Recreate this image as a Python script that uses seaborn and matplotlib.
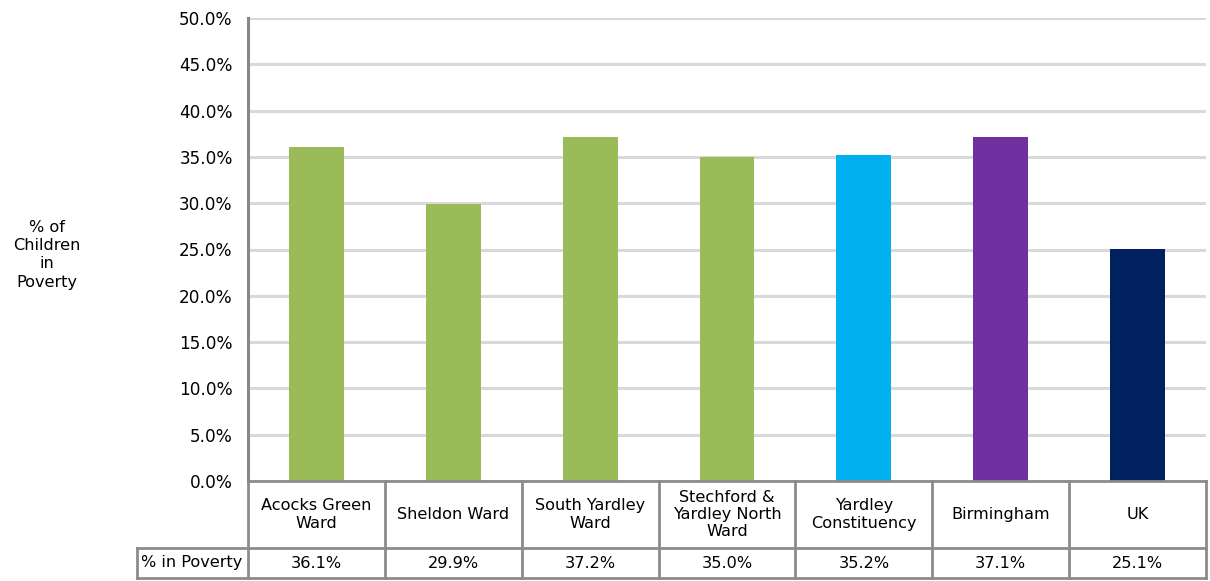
import matplotlib
matplotlib.use("Agg")
import matplotlib.pyplot as plt
import matplotlib.transforms as mtransforms
import seaborn as sns
import pandas as pd
from matplotlib.ticker import PercentFormatter

categories = ["Acocks Green\nWard", "Sheldon Ward", "South Yardley\nWard",
              "Stechford &\nYardley North\nWard", "Yardley\nConstituency",
              "Birmingham", "UK"]
poverty_pct = [36.1, 29.9, 37.2, 35.0, 35.2, 37.1, 25.1]
bar_colors = ["#9BBB59", "#9BBB59", "#9BBB59", "#9BBB59",
              "#00B0F0", "#7030A0", "#002060"]
row_label = "% in Poverty"
y_label = "% of\nChildren\nin\nPoverty"

sns.set_theme(style="white")
plt.rcParams["font.family"] = ["DejaVu Sans"]
plt.rcParams["text.color"] = "black"

df = pd.DataFrame({"area": categories, "pct": poverty_pct})

W, H = 1210, 581
fig = plt.figure(figsize=(W / 100, H / 100), dpi=100)
ax_left, ax_right, ax_top, ax_bottom = 248, 1206, 18, 481
ax = fig.add_axes([ax_left / W, 1 - ax_bottom / H,
                   (ax_right - ax_left) / W, (ax_bottom - ax_top) / H])
ax_h = ax_bottom - ax_top
col_w = (ax_right - ax_left) / len(categories)

sns.barplot(data=df, x="area", y="pct", hue="area", order=categories,
            palette=dict(zip(categories, bar_colors)), width=0.4,
            legend=False, ax=ax, saturation=1, linewidth=0)

fs = 11.6
ax.set_ylim(0, 50)
ax.set_yticks(range(0, 51, 5))
ax.yaxis.set_major_formatter(PercentFormatter(decimals=1))
ax.tick_params(axis="y", labelsize=12.2, length=0, pad=11, labelcolor="black")
ax.set_xticks([])
ax.set_xlabel("")
ax.set_ylabel("")
ax.set_xlim(-0.5, len(categories) - 0.5)
ax.grid(axis="y", color="#D9D9D9", linewidth=2.2)
ax.set_axisbelow(True)
for side in ["top", "right", "bottom"]:
    ax.spines[side].set_visible(False)
ax.spines["left"].set_color("#878787")
ax.spines["left"].set_linewidth(2.2)

fig.text(47 / W, 1 - 255 / H, y_label, ha="center", va="center",
         fontsize=fs, linespacing=1.25)

# data table under the plot area (x in category units, y in axes fraction)
trans = mtransforms.blended_transform_factory(ax.transData, ax.transAxes)
edge = dict(color="#8C8C8C", linewidth=2.0, transform=trans, clip_on=False,
            solid_capstyle="projecting")
y_top = 0.0
y_mid = -67 / ax_h
y_bot = -97 / ax_h
x0 = -0.5
x_end = len(categories) - 0.5
x_lab = x0 - 111 / col_w

ax.plot([x0, x_end], [y_top, y_top], **edge)
ax.plot([x_lab, x_end], [y_mid, y_mid], **edge)
ax.plot([x_lab, x_end], [y_bot, y_bot], **edge)
ax.plot([x_lab, x_lab], [y_mid, y_bot], **edge)
for i in range(len(categories) + 1):
    ax.plot([x0 + i, x0 + i], [y_top, y_bot], **edge)

for i, (name, v) in enumerate(zip(categories, poverty_pct)):
    ax.text(i, (y_top + y_mid) / 2, name, ha="center", va="center",
            fontsize=fs, linespacing=1.2, transform=trans)
    ax.text(i, (y_mid + y_bot) / 2, f"{v:.1f}%", ha="center", va="center",
            fontsize=fs, transform=trans)
ax.text(x_lab + 4 / col_w, (y_mid + y_bot) / 2, row_label, ha="left",
        va="center", fontsize=fs, transform=trans)

fig.savefig("out.png", dpi=100, facecolor="white")
